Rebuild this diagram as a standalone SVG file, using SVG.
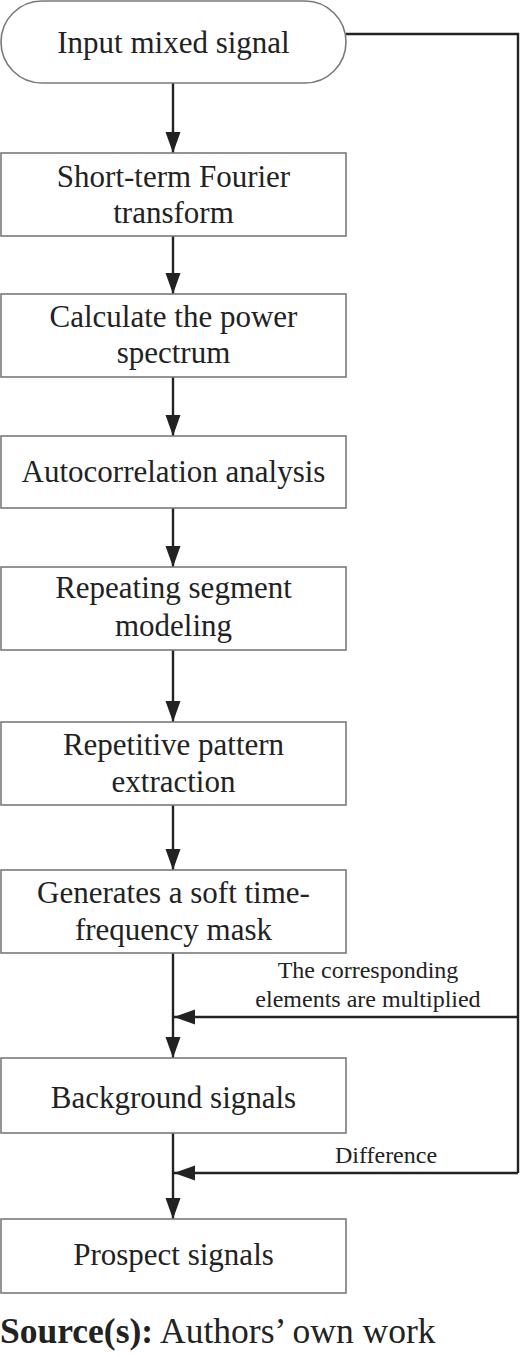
<svg xmlns="http://www.w3.org/2000/svg" width="520" height="1357" viewBox="0 0 520 1357">
<style>
.box{fill:#fff;stroke:#7a7a7a;stroke-width:1.6}
.t{font-family:"Liberation Serif","Times New Roman",serif;font-size:31px;fill:#222;text-anchor:middle}
.lbl{font-family:"Liberation Serif","Times New Roman",serif;font-size:24px;fill:#222;text-anchor:middle}
.cap{font-family:"Liberation Serif","Times New Roman",serif;font-size:35.5px;fill:#222}
.c{fill:none;stroke:#222;stroke-width:2.4}
</style>
<defs>
<marker id="ah" markerUnits="userSpaceOnUse" markerWidth="22" markerHeight="16" refX="21" refY="7.5" orient="auto">
<path d="M0,0 L21,7.5 L0,15 Z" fill="#222"/>
</marker>
</defs>
<rect width="520" height="1357" fill="#fff"/>
<g id="connectors">
<line class="c" x1="173" y1="83" x2="173" y2="153" marker-end="url(#ah)"/>
<line class="c" x1="173" y1="236" x2="173" y2="294" marker-end="url(#ah)"/>
<line class="c" x1="173" y1="377" x2="173" y2="436" marker-end="url(#ah)"/>
<line class="c" x1="173" y1="508" x2="173" y2="567" marker-end="url(#ah)"/>
<line class="c" x1="173" y1="650" x2="173" y2="722" marker-end="url(#ah)"/>
<line class="c" x1="173" y1="805" x2="173" y2="870" marker-end="url(#ah)"/>
<line class="c" x1="173" y1="953" x2="173" y2="1058" marker-end="url(#ah)"/>
<line class="c" x1="173" y1="1133" x2="173" y2="1219" marker-end="url(#ah)"/>
<polyline class="c" points="346,34 518,34 518,1173"/>
<line class="c" x1="518" y1="1017" x2="174" y2="1017" marker-end="url(#ah)"/>
<line class="c" x1="518" y1="1173" x2="174" y2="1173" marker-end="url(#ah)"/>
<text class="lbl" x="368" y="978">The corresponding</text>
<text class="lbl" x="368" y="1007">elements are multiplied</text>
<text class="lbl" x="386" y="1163">Difference</text>
</g>
<g id="n0"><rect class="box" x="1" y="1" width="345" height="82" rx="41" ry="41"/><text class="t" x="173.5" y="53">Input mixed signal</text></g>
<g id="n1"><rect class="box" x="1" y="153" width="345" height="83"/><text class="t" x="173.5" y="187">Short-term Fourier</text><text class="t" x="173.5" y="223">transform</text></g>
<g id="n2"><rect class="box" x="1" y="294" width="345" height="83"/><text class="t" x="173.5" y="327">Calculate the power</text><text class="t" x="173.5" y="363">spectrum</text></g>
<g id="n3"><rect class="box" x="1" y="436" width="345" height="72"/><text class="t" x="173.5" y="482">Autocorrelation analysis</text></g>
<g id="n4"><rect class="box" x="1" y="567" width="345" height="83"/><text class="t" x="173.5" y="598">Repeating segment</text><text class="t" x="173.5" y="636">modeling</text></g>
<g id="n5"><rect class="box" x="1" y="722" width="345" height="83"/><text class="t" x="173.5" y="755">Repetitive pattern</text><text class="t" x="173.5" y="792">extraction</text></g>
<g id="n6"><rect class="box" x="1" y="870" width="345" height="83"/><text class="t" x="173.5" y="903">Generates a soft time-</text><text class="t" x="173.5" y="940">frequency mask</text></g>
<g id="n7"><rect class="box" x="1" y="1058" width="345" height="75"/><text class="t" x="173.5" y="1108">Background signals</text></g>
<g id="n8"><rect class="box" x="1" y="1219" width="345" height="74"/><text class="t" x="173.5" y="1265">Prospect signals</text></g>
<text class="cap" x="0" y="1343"><tspan font-weight="bold">Source(s):</tspan> Authors’ own work</text>
</svg>
